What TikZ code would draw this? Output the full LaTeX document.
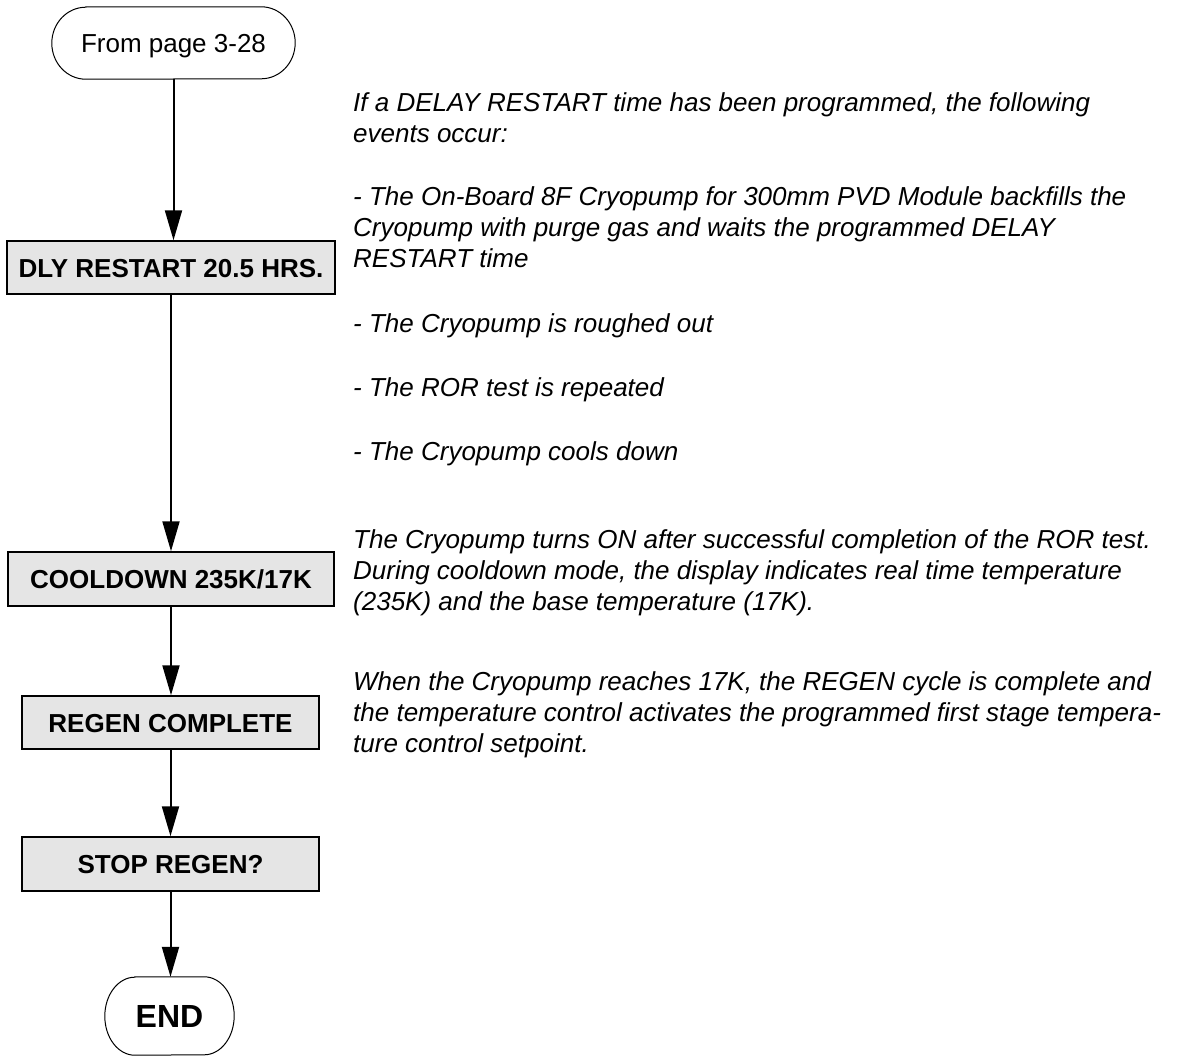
\documentclass[tikz,border=0pt]{standalone}
\usepackage{fontspec}
\setmainfont{Liberation Sans}
\usetikzlibrary{arrows.meta}
\definecolor{boxgray}{RGB}{229,229,229}
\begin{document}
\begin{tikzpicture}[x=1pt,y=-1pt,
  stepbox/.style={draw=black, line width=1.5pt, fill=boxgray, inner sep=0pt,
    font=\fontsize{26}{31}\selectfont\bfseries, text height=19pt, text depth=0pt},
  term/.style={inner sep=0pt, text height=19pt, text depth=0pt},
  termline/.style={draw=black, line width=1pt},
  conn/.style={line width=2pt, -{Triangle[length=30pt,width=17pt]}},
  txt/.style={anchor=base west, inner sep=0pt, font=\fontsize{26}{31.5}\selectfont\itshape}
]
\useasboundingbox (0,0) rectangle (1192,1057);

% terminators
\node[term, minimum width=243pt, minimum height=72pt, font=\fontsize{26}{31}\selectfont] (from) at (173.5,43) {From page 3-28};
\draw[termline] ([xshift=34pt]from.north west) -- ([xshift=-34pt]from.north east)
  arc[start angle=90, end angle=-90, x radius=34pt, y radius=36pt]
  -- ([xshift=34pt]from.south west)
  arc[start angle=270, end angle=90, x radius=34pt, y radius=36pt] -- cycle;

\node[term, minimum width=129pt, minimum height=78pt, font=\fontsize{32}{36}\selectfont\bfseries, text height=23pt] (end) at (169.5,1016) {END};
\draw[termline] ([xshift=30pt]end.north west) -- ([xshift=-30pt]end.north east)
  arc[start angle=90, end angle=-90, x radius=30pt, y radius=39pt]
  -- ([xshift=30pt]end.south west)
  arc[start angle=270, end angle=90, x radius=30pt, y radius=39pt] -- cycle;

% process boxes
\node[stepbox, minimum width=328pt, minimum height=53pt] (dly) at (171,267.5) {DLY RESTART 20.5 HRS.};
\node[stepbox, minimum width=326pt, minimum height=54pt] (cool) at (171,579) {COOLDOWN 235K/17K};
\node[stepbox, minimum width=297pt, minimum height=53pt] (regen) at (170.5,722.5) {REGEN COMPLETE};
\node[stepbox, minimum width=297pt, minimum height=54pt] (stop) at (170.5,864) {STOP REGEN?};

% connectors
\draw[conn] (from.south) -- (from.south |- dly.north);
\draw[conn] (dly.south) -- (dly.south |- cool.north);
\draw[conn] (cool.south) -- (cool.south |- regen.north);
\draw[conn] (regen.south) -- (regen.south |- stop.north);
\draw[conn] (stop.south) -- (stop.south |- end.north);

% description text
\node[txt] (t1) at (353,111) {If a DELAY RESTART time has been programmed, the following};
\node[txt] (t2) at (353,142) {events occur:};
\node[txt] (t3) at (353,205) {- The On-Board 8F Cryopump for 300mm PVD Module backfills the};
\node[txt] (t4) at (353,236) {Cryopump with purge gas and waits the programmed DELAY};
\node[txt] (t5) at (353,267) {RESTART time};
\node[txt] (t6) at (353,332) {- The Cryopump is roughed out};
\node[txt] (t7) at (353,396) {- The ROR test is repeated};
\node[txt] (t8) at (353,460) {- The Cryopump cools down};
\node[txt] (t9) at (353,548) {The Cryopump turns ON after successful completion of the ROR test.};
\node[txt] (t10) at (353,579) {During cooldown mode, the display indicates real time temperature};
\node[txt] (t11) at (353,610) {(235K) and the base temperature (17K).};
\node[txt] (t12) at (353,690) {When the Cryopump reaches 17K, the REGEN cycle is complete and};
\node[txt] (t13) at (353,721) {the temperature control activates the programmed first stage tempera-};
\node[txt] (t14) at (353,752) {ture control setpoint.};
\end{tikzpicture}
\end{document}
